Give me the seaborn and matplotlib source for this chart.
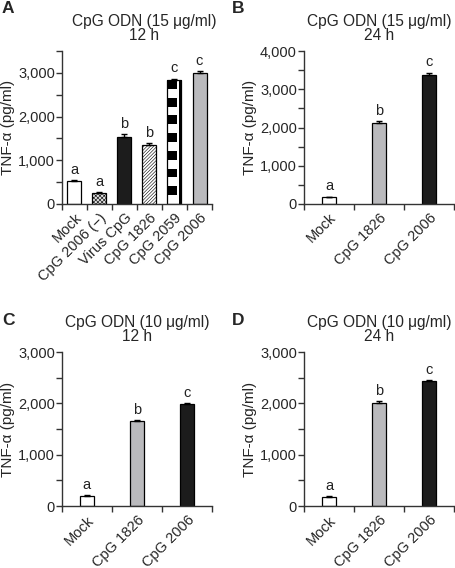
import numpy as np
import matplotlib
matplotlib.use("Agg")
import matplotlib.pyplot as plt
import seaborn as sns
from matplotlib.ticker import MultipleLocator, FuncFormatter


# Données
a_labels = ["Mock", "CpG 2006 (\u2212)", "Virus CpG", "CpG 1826", "CpG 2059", "CpG 2006"]
a_values = [530, 260, 1530, 1360, 2830, 3010]
a_errors = [10, 10, 70, 30, 40, 30]
a_letters = ["a", "a", "b", "b", "c", "c"]

short_labels = ["Mock", "CpG 1826", "CpG 2006"]
short_letters = ["a", "b", "c"]

b_values = [180, 2110, 3380]
b_errors = [10, 50, 60]

c_values = [200, 1660, 1990]
c_errors = [10, 10, 15]

d_values = [180, 2010, 2440]
d_errors = [10, 30, 15]

WHITE = "#ffffff"
GRAY = "#b9b9bd"
BLACK = "#1c1c1c"

sns.set_theme(style="ticks")
plt.rcParams["font.family"] = ["Liberation Sans", "DejaVu Sans"]
plt.rcParams["hatch.linewidth"] = 0.4


def set_hatch(bar, hatch, color):
    bar.set_hatch(hatch)
    if hasattr(bar, "set_hatchcolor"):
        bar.set_hatchcolor(color)


def draw_panel(ax, labels, values, errors, letters, colors, ymax, title, width,
               title_x=0.5):
    n = len(labels)
    sns.barplot(
        x=labels, y=values, hue=labels, palette=colors,
        width=width, edgecolor="black", linewidth=0.9,
        errorbar=None, legend=False, ax=ax
    )
    ax.errorbar(
        range(n), values, yerr=[np.zeros(n), errors],
        fmt="none", ecolor="black", elinewidth=1, capsize=2.5, capthick=1
    )
    for i, (v, e, t) in enumerate(zip(values, errors, letters)):
        ax.annotate(t, (i, v + e), xytext=(0, 2.5), textcoords="offset points",
                    ha="center", va="bottom", fontsize=10.5, color="#222222")

    ax.set_xlim(-0.5, n - 0.5)
    ax.set_ylim(0, ymax)
    ax.set_xticks(range(n))
    ax.set_xticklabels(labels, rotation=45, ha="right", rotation_mode="anchor",
                       fontsize=10.5)
    ax.set_xticks(np.arange(-0.5, n), minor=True)
    ax.tick_params(axis="x", which="major", length=0, pad=5)
    ax.tick_params(axis="x", which="minor", length=4, width=1, color="#333333")
    ax.yaxis.set_major_locator(MultipleLocator(1000))
    ax.yaxis.set_minor_locator(MultipleLocator(500))
    ax.yaxis.set_major_formatter(FuncFormatter(lambda v, p: f"{v:,.0f}"))
    ax.tick_params(axis="y", which="both", length=4, width=1, color="#333333",
                   labelsize=10.5, pad=1)
    ax.set_ylabel("TNF-\u03b1 (pg/ml)", fontsize=11, labelpad=2)
    ax.set_xlabel("")
    ax.set_title(title, fontsize=11.2, pad=8, linespacing=0.95, x=title_x)
    for s in ["left", "bottom"]:
        ax.spines[s].set_linewidth(1)
        ax.spines[s].set_color("#333333")
    sns.despine(ax=ax)
    return sorted(ax.patches, key=lambda p: p.get_x())


fig = plt.figure(figsize=(4.55, 5.68), dpi=100)
ax_a = fig.add_axes([0.136, 0.641, 0.330, 0.269])
ax_b = fig.add_axes([0.668, 0.641, 0.330, 0.269])
ax_c = fig.add_axes([0.136, 0.109, 0.330, 0.271])
ax_d = fig.add_axes([0.668, 0.109, 0.330, 0.271])

bars = draw_panel(ax_a, a_labels, a_values, a_errors, a_letters,
                  [WHITE, "#e0e0e0", BLACK, WHITE, WHITE, GRAY], 3500,
                  "CpG ODN (15 \u03bcg/ml)\n12 h", 0.56, title_x=0.547)
set_hatch(bars[1], "xxxxxxxx", "#555555")
set_hatch(bars[3], "//////////", "#777777")

# motif en damier pour CpG 2059
b = bars[4]
x0, w, h = b.get_x(), b.get_width(), b.get_height()
rows = int(round(h / 200))
pattern = np.zeros((rows, 10))
for r in range(rows):
    pattern[r, :7] = (r + 1) % 2
pattern[:, 8:] = 1
b.set_facecolor("none")
img = ax_a.imshow(pattern, extent=[x0, x0 + w, 0, h], aspect="auto",
                  cmap="gray_r", vmin=0, vmax=1, interpolation="nearest",
                  zorder=0.5)
img.set_clip_path(b)
ax_a.set_xlim(-0.5, len(a_labels) - 0.5)
ax_a.set_ylim(0, 3500)

draw_panel(ax_b, short_labels, b_values, b_errors, short_letters,
           [WHITE, GRAY, BLACK], 4000, "CpG ODN (15 \u03bcg/ml)\n24 h", 0.28)
draw_panel(ax_c, short_labels, c_values, c_errors, short_letters,
           [WHITE, GRAY, BLACK], 3000, "CpG ODN (10 \u03bcg/ml)\n12 h", 0.28)
draw_panel(ax_d, short_labels, d_values, d_errors, short_letters,
           [WHITE, GRAY, BLACK], 3000, "CpG ODN (10 \u03bcg/ml)\n24 h", 0.28)

for letter, x, y in [("A", 0.004, 0.998), ("B", 0.51, 0.998),
                     ("C", 0.004, 0.449), ("D", 0.51, 0.449)]:
    fig.text(x, y, letter, fontsize=12.5, fontweight="bold", ha="left", va="top")

fig.savefig("out.png", dpi=100)
